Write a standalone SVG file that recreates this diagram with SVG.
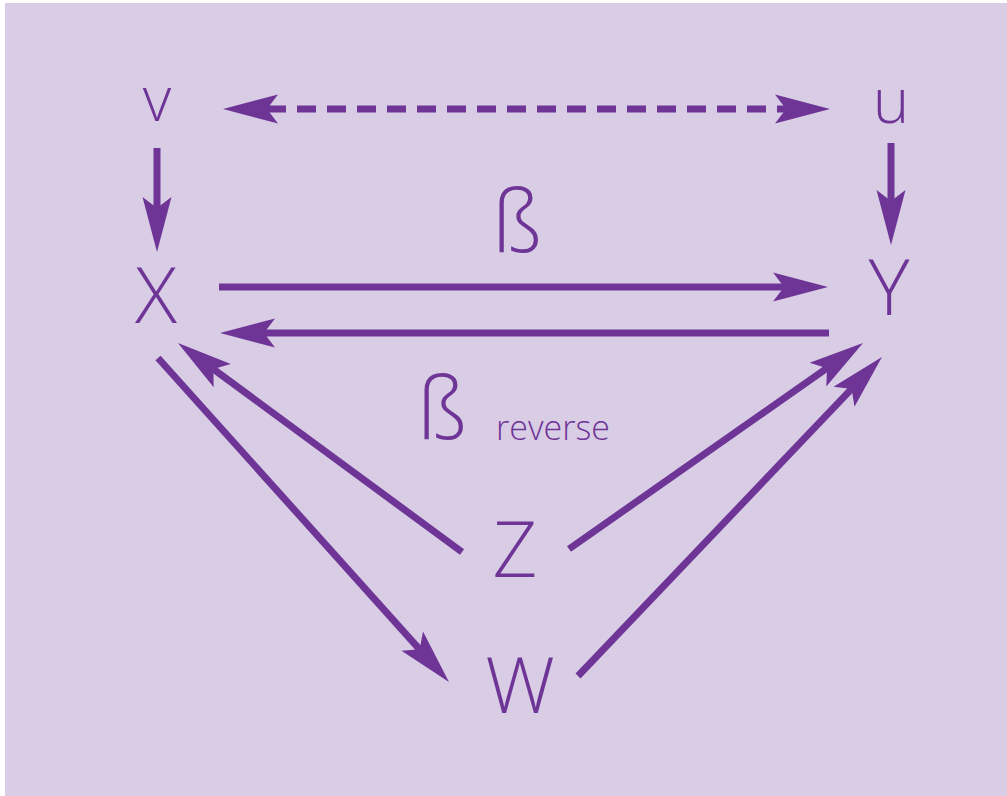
<svg xmlns="http://www.w3.org/2000/svg" width="1007" height="796" viewBox="0 0 1007 796">
  <style>
    .bg { fill: #d9cce5; }
    .lbl { font-family: "Open Sans", "Liberation Sans", sans-serif; font-weight: 300; fill: #6e3597; text-anchor: middle; }
    .big { font-size: 78px; }
    .small { font-size: 62px; }
    .beta { font-size: 86px; }
    .sub { font-size: 34px; text-anchor: start; }
    .edge { fill: none; stroke: #6e3597; stroke-width: 7; }
    .dash { stroke-dasharray: 19 11; }
  </style>
  <defs>
    <marker id="ah" viewBox="-12 -16 58 32" markerWidth="58" markerHeight="32" refX="0" refY="0" orient="auto" markerUnits="userSpaceOnUse">
      <path d="M-11,-14.5 L44,0 L-11,14.5 L0,0 Z" fill="#6e3597"/>
    </marker>
    <marker id="ahs" viewBox="-12 -16 58 32" markerWidth="58" markerHeight="32" refX="0" refY="0" orient="auto-start-reverse" markerUnits="userSpaceOnUse">
      <path d="M-11,-14.5 L44,0 L-11,14.5 L0,0 Z" fill="#6e3597"/>
    </marker>
  </defs>
  <rect class="bg" x="5" y="3" width="1002" height="793"/>

  <g id="connectors">
    <line class="edge dash" x1="267" y1="109" x2="786" y2="109" marker-start="url(#ahs)" marker-end="url(#ahs)"/>
    <line class="edge" x1="219" y1="287" x2="784" y2="287" marker-end="url(#ah)"/>
    <line class="edge" x1="829" y1="333" x2="264" y2="333" marker-end="url(#ah)"/>
    <line class="edge" x1="157" y1="148" x2="157" y2="208" marker-end="url(#ah)"/>
    <line class="edge" x1="891" y1="143" x2="891" y2="201" marker-end="url(#ah)"/>
    <line class="edge" x1="158" y1="358" x2="419.6" y2="649.3" marker-end="url(#ah)"/>
    <line class="edge" x1="462" y1="552" x2="213.4" y2="369.1" marker-end="url(#ah)"/>
    <line class="edge" x1="569" y1="549" x2="827" y2="368.2" marker-end="url(#ah)"/>
    <line class="edge" x1="578" y1="676" x2="851.6" y2="388.9" marker-end="url(#ah)"/>
  </g>

  <g id="node-v"><text class="lbl small" x="157" y="121">v</text></g>
  <g id="node-u"><text class="lbl small" x="891" y="123">u</text></g>
  <g id="node-X"><text class="lbl big" x="156" y="323">X</text></g>
  <g id="node-Y"><text class="lbl big" x="889" y="315">Y</text></g>
  <g id="node-Z"><text class="lbl big" x="515" y="577">Z</text></g>
  <g id="node-W"><text class="lbl big" x="520" y="713">W</text></g>
  <g id="label-beta"><text class="lbl beta" x="517" y="252">ß</text></g>
  <g id="label-beta-reverse">
    <text class="lbl beta" x="442" y="439">ß</text>
    <text class="lbl sub" x="496" y="440">reverse</text>
  </g>
</svg>
